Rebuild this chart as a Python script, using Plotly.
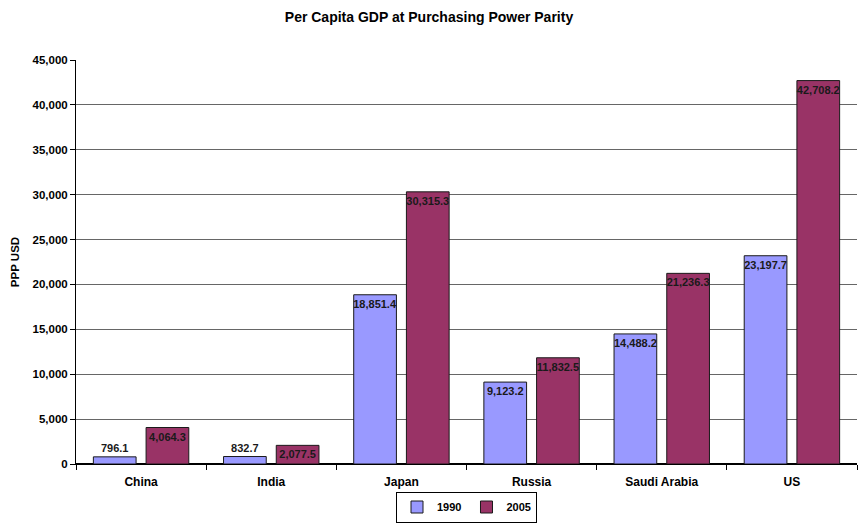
import plotly.graph_objects as go

countries = ["China", "India", "Japan", "Russia", "Saudi Arabia", "US"]
gdp_1990 = [796.1, 832.7, 18851.4, 9123.2, 14488.2, 23197.7]
gdp_2005 = [4064.3, 2077.5, 30315.3, 11832.5, 21236.3, 42708.2]
y_ticks = [0, 5000, 10000, 15000, 20000, 25000, 30000, 35000, 40000, 45000]
y_tick_labels = ["0", "5,000", "10,000", "15,000", "20,000", "25,000", "30,000", "35,000", "40,000", "45,000"]

FONT = "Liberation Sans, Arial, sans-serif"

def labels(vals):
    return [f"{v:,.1f}" for v in vals]

def positions(vals):
    return ["outside" if v < 1500 else "inside" for v in vals]

fig = go.Figure()
for name, vals, color in [("1990", gdp_1990, "#9999FF"), ("2005", gdp_2005, "#993366")]:
    fig.add_trace(go.Bar(
        name=name, x=countries, y=vals,
        marker=dict(color=color, line=dict(color="#1a1a1a", width=1)),
        text=labels(vals), textposition=positions(vals),
        insidetextanchor="end", constraintext="none", textangle=0,
        textfont=dict(family=FONT, size=11, color="#1a1a1a", weight="bold"),
        cliponaxis=False,
    ))

fig.update_layout(
    width=858, height=524,
    paper_bgcolor="white", plot_bgcolor="white",
    margin=dict(l=76, r=1, t=60, b=60, autoexpand=False),
    font=dict(family=FONT, size=11, color="black"),
    title=dict(text="<b>Per Capita GDP at Purchasing Power Parity</b>",
               x=0.5, xanchor="center", xref="container", y=1 - 17 / 524, yref="container",
               yanchor="middle",
               font=dict(family=FONT, size=14, color="black")),
    barmode="group", bargap=0.19, bargroupgap=0.19,
    showlegend=True,
    legend=dict(orientation="h", x=0.5, xanchor="center", xref="paper",
                y=17 / 524, yanchor="middle", yref="container",
                bordercolor="black", borderwidth=1, bgcolor="white",
                font=dict(family=FONT, size=11, color="black", weight="bold"),
                itemwidth=30, tracegroupgap=0),
    xaxis=dict(showline=True, linecolor="black", linewidth=1, automargin=False,
               ticks="outside", tickson="boundaries", ticklen=5, tickcolor="black",
               ticklabelstandoff=7,
               tickfont=dict(family=FONT, size=12, color="black", weight="bold"),
               showgrid=False),
    yaxis=dict(range=[0, 45000], tickvals=y_ticks, ticktext=y_tick_labels,
               automargin=False,
               showline=True, linecolor="black", linewidth=1,
               ticks="outside", ticklen=5, tickcolor="black",
               tickfont=dict(family=FONT, size=11.5, color="black", weight="bold"),
               showgrid=True, gridcolor="#666666", gridwidth=1,
               zeroline=True, zerolinecolor="black",
               title=dict(text="<b>PPP USD</b>", standoff=10,
                          font=dict(family=FONT, size=11.5, color="black"))),
)

fig.write_html("out.html", config={"displayModeBar": False},
               post_script="document.body.style.margin='0';")
